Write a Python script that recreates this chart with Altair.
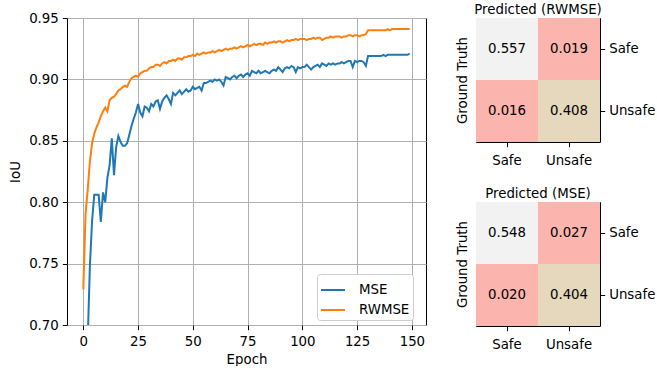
import altair as alt
import pandas as pd

FONT = "DejaVu Sans"
FS = 13.33

# ---------------- data ----------------
epochs = list(range(150))

mse_iou = [
    0.560, 0.640, 0.687, 0.748, 0.785, 0.806, 0.806, 0.806, 0.784, 0.808,
    0.800, 0.820, 0.830, 0.852, 0.822, 0.845, 0.854, 0.849, 0.846, 0.846,
    0.848, 0.855, 0.862, 0.868, 0.873, 0.880, 0.873, 0.870, 0.878, 0.877,
    0.874, 0.880, 0.878, 0.882, 0.883, 0.876, 0.882, 0.885, 0.887, 0.884,
    0.880, 0.889, 0.887, 0.889, 0.891, 0.888, 0.890, 0.892, 0.890, 0.891,
    0.894, 0.892, 0.893, 0.894, 0.891, 0.897, 0.897, 0.898, 0.899, 0.898,
    0.900, 0.899, 0.900, 0.898, 0.895, 0.902, 0.901, 0.900, 0.902, 0.903,
    0.901, 0.903, 0.904, 0.902, 0.904, 0.905, 0.903, 0.907, 0.906, 0.905,
    0.907, 0.905, 0.906, 0.907, 0.906, 0.905, 0.907, 0.908, 0.907, 0.910,
    0.908, 0.906, 0.909, 0.910, 0.909, 0.911, 0.910, 0.906, 0.910, 0.909,
    0.910, 0.910, 0.912, 0.910, 0.908, 0.910, 0.911, 0.912, 0.910, 0.913,
    0.912, 0.911, 0.913, 0.912, 0.913, 0.912, 0.913, 0.913, 0.914, 0.913,
    0.914, 0.915, 0.915, 0.910, 0.915, 0.914, 0.915, 0.915, 0.914, 0.911,
    0.919, 0.919, 0.919, 0.919, 0.919, 0.919, 0.919, 0.920, 0.919, 0.920,
    0.920, 0.920, 0.920, 0.920, 0.920, 0.920, 0.920, 0.920, 0.920, 0.921,
]

rwmse_iou = [
    0.729, 0.790, 0.810, 0.833, 0.848, 0.856, 0.861, 0.865, 0.870, 0.874,
    0.877, 0.874, 0.883, 0.885, 0.886, 0.888, 0.891, 0.892, 0.894, 0.895,
    0.894, 0.898, 0.901, 0.902, 0.903, 0.902, 0.905, 0.906, 0.907, 0.907,
    0.909, 0.910, 0.910, 0.912, 0.912, 0.911, 0.913, 0.914, 0.913, 0.915,
    0.915, 0.916, 0.915, 0.917, 0.917, 0.916, 0.918, 0.918, 0.919, 0.919,
    0.920, 0.919, 0.921, 0.920, 0.921, 0.922, 0.921, 0.922, 0.922, 0.923,
    0.922, 0.923, 0.924, 0.923, 0.924, 0.925, 0.924, 0.925, 0.925, 0.926,
    0.925, 0.926, 0.927, 0.926, 0.927, 0.928, 0.927, 0.928, 0.929, 0.928,
    0.929, 0.929, 0.928, 0.930, 0.929, 0.930, 0.930, 0.931, 0.930, 0.931,
    0.931, 0.930, 0.931, 0.932, 0.931, 0.932, 0.932, 0.933, 0.932, 0.933,
    0.933, 0.933, 0.932, 0.933, 0.933, 0.934, 0.933, 0.934, 0.934, 0.932,
    0.933, 0.934, 0.934, 0.935, 0.934, 0.935, 0.935, 0.935, 0.934, 0.935,
    0.935, 0.936, 0.936, 0.935, 0.936, 0.936, 0.935, 0.936, 0.936, 0.937,
    0.940, 0.940, 0.940, 0.940, 0.940, 0.940, 0.940, 0.940, 0.940, 0.941,
    0.940, 0.941, 0.941, 0.941, 0.941, 0.941, 0.941, 0.941, 0.941, 0.941,
]

series_names = ["MSE", "RWMSE"]
series_colors = ["#1f77b4", "#ff7f0e"]
x_ticks = [0, 25, 50, 75, 100, 125, 150]
y_ticks = [0.70, 0.75, 0.80, 0.85, 0.90, 0.95]

classes = ["Safe", "Unsafe"]
# row-major: ground truth (Safe, Unsafe) x predicted (Safe, Unsafe)
cm_rwmse = [0.557, 0.019, 0.016, 0.408]
cm_mse = [0.548, 0.027, 0.020, 0.404]
pastel1 = ["#fbb4ae", "#b3cde3", "#ccebc5", "#decbe4", "#fed9a6",
           "#ffffcc", "#e5d8bd", "#fddaec", "#f2f2f2"]

# ---------------- line chart ----------------
line_df = pd.DataFrame({
    "Epoch": epochs + epochs,
    "IoU": mse_iou + rwmse_iou,
    "Loss": [series_names[0]] * len(epochs) + [series_names[1]] * len(epochs),
})

line = alt.Chart(line_df).mark_line(clip=True, strokeWidth=2).encode(
    x=alt.X("Epoch:Q",
            scale=alt.Scale(domain=[-7.45, 156.45], nice=False, zero=False),
            axis=alt.Axis(values=x_ticks, title="Epoch", grid=True, tickSize=4.67,
                          labelPadding=5, titlePadding=4, format="d")),
    y=alt.Y("IoU:Q",
            scale=alt.Scale(domain=[0.70, 0.95], nice=False, zero=False),
            axis=alt.Axis(values=y_ticks, title="IoU", grid=True, tickSize=4.67,
                          labelPadding=4, titlePadding=6, format=".2f")),
    color=alt.Color("Loss:N",
                    scale=alt.Scale(domain=series_names, range=series_colors),
                    legend=alt.Legend(orient="none", legendX=250, legendY=256, title=None,
                                      symbolType="stroke", symbolSize=576,
                                      symbolStrokeWidth=2, labelFontSize=FS,
                                      labelFont=FONT, labelColor="black",
                                      fillColor="white", strokeColor="#cccccc",
                                      cornerRadius=3, padding=3, rowPadding=-5,
                                      labelOffset=13)),
).properties(width=359, height=307)


# ---------------- confusion matrices ----------------
def heatmap(values, title):
    df = pd.DataFrame({
        "gt": [classes[0], classes[0], classes[1], classes[1]],
        "pred": [classes[0], classes[1], classes[0], classes[1]],
        "v": values,
    })
    base = alt.Chart(df).encode(
        x=alt.X("pred:N", sort=classes,
                scale=alt.Scale(paddingInner=0, paddingOuter=0),
                axis=alt.Axis(orient="bottom", title=None, labelAngle=0, tickSize=4.67,
                              labelPadding=7, grid=False)),
        y=alt.Y("gt:N", sort=classes,
                scale=alt.Scale(paddingInner=0, paddingOuter=0),
                axis=alt.Axis(orient="right", title="Ground Truth", titleX=-137.5,
                              titleY=62, titleAngle=270, titleAlign="center",
                              titleBaseline="middle", tickSize=4.67, labelPadding=4,
                              grid=False, labelAngle=0)),
    )
    rect = base.mark_rect().encode(
        color=alt.Color("v:Q",
                        scale=alt.Scale(type="quantize", domain=[min(values), max(values)],
                                        range=pastel1, nice=False),
                        legend=None)
    )
    text = base.mark_text(fontSize=FS, font=FONT, color="black").encode(
        text=alt.Text("v:Q", format=".3f")
    )
    return alt.layer(rect, text).properties(
        width=124, height=124,
        title=alt.TitleParams(title, fontSize=FS, font=FONT, fontWeight="normal",
                              color="black", anchor="middle", frame="group",
                              baseline="bottom", offset=-12),
    )


h1 = heatmap(cm_rwmse, "Predicted (RWMSE)")
h2 = heatmap(cm_mse, "Predicted (MSE)")

right = alt.vconcat(h1, h2, spacing=60, bounds="flush").resolve_scale(color="independent")

chart = alt.hconcat(line, right, spacing=50, bounds="flush").resolve_scale(
    color="independent"
).properties(
    padding={"left": 8, "top": 2, "right": 0, "bottom": 0},
    autosize=alt.AutoSizeParams(type="pad"),
).configure(
    font=FONT,
    background="white",
).configure_view(
    stroke="black", strokeWidth=1,
).configure_axis(
    labelFont=FONT, titleFont=FONT, labelFontSize=FS, titleFontSize=FS,
    labelColor="black", titleColor="black", tickColor="black", tickWidth=1,
    titleFontWeight="normal", domain=False, gridColor="#b0b0b0", gridWidth=1,
)

chart.save("out.html", embed_options={"renderer": "svg", "actions": False})
